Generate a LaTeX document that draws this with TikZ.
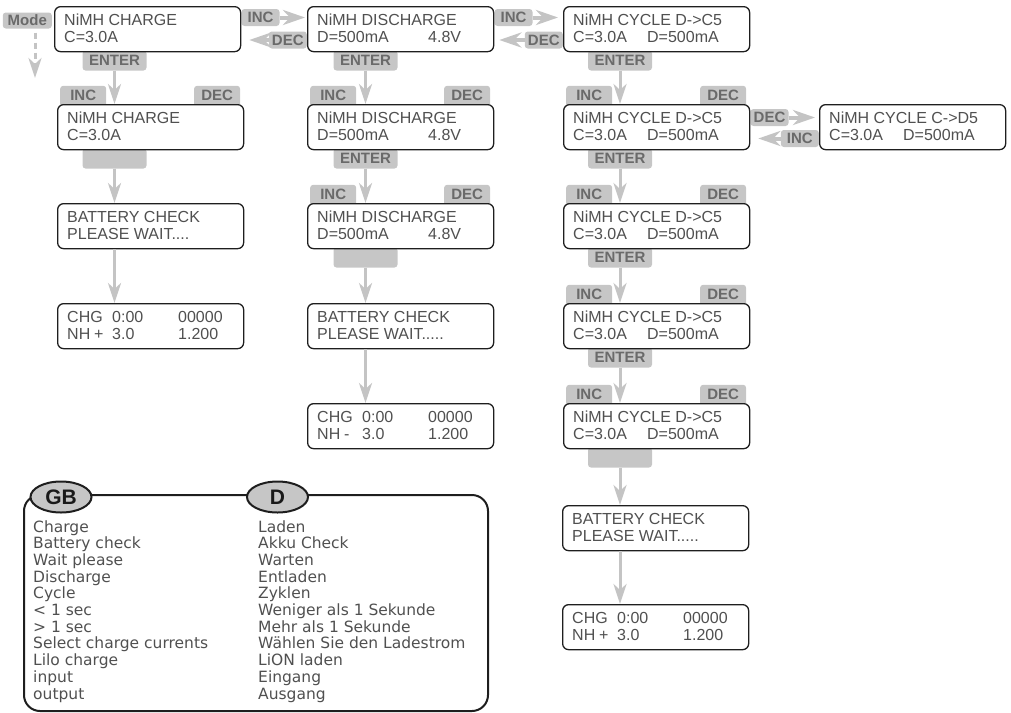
\documentclass[tikz,border=0pt]{standalone}
\usepackage{fontspec}
\setmainfont{Liberation Sans}
\newfontfamily\legfont{DejaVu Sans}
\usetikzlibrary{arrows.meta,shapes.geometric}
\pgfdeclarelayer{bg}
\pgfsetlayers{bg,main}
\definecolor{tabgrey}{HTML}{C6C6C6}
\definecolor{tabtext}{HTML}{6A6A6A}
\definecolor{arrgrey}{HTML}{C4C4C4}
\definecolor{lcdtext}{HTML}{505050}
\definecolor{boxline}{HTML}{1E1E1E}
\newcommand\cellat[2]{\makebox[#1pt][l]{#2}}
\tikzset{
 lcd/.style={draw=boxline, line width=1.3pt, fill=white, rounded corners=6pt, minimum width=186pt, minimum height=45pt, inner sep=0pt, anchor=north west},
 lcdtxt/.style={anchor=base west, inner sep=0pt, text=lcdtext, font=\fontsize{16}{17}\selectfont},
 tab/.style={fill=tabgrey, rounded corners=3pt, inner sep=0pt, text=tabtext, font=\bfseries\fontsize{15}{15}\selectfont},
 vtab/.style={tab, minimum width=46pt, minimum height=21pt},
 etab/.style={tab, minimum width=64pt, minimum height=20pt, anchor=north},
 htab/.style={tab, minimum width=38pt, minimum height=17pt},
 varrow/.style={draw=arrgrey, line width=3pt, -{Stealth[length=20pt,width=13pt,inset=6pt]}},
 harrow/.style={draw=arrgrey, line width=4pt, -{Stealth[length=22pt,width=15pt,inset=7pt]}},
 legtxt/.style={anchor=base west, inner sep=0pt, text=lcdtext, font=\legfont\fontsize{15.5}{17}\selectfont},
 flag/.style={ellipse, draw=boxline, fill=tabgrey, line width=2pt, minimum width=61pt, minimum height=31pt, inner sep=0pt, text=black!90, font=\bfseries\fontsize{21}{21}\selectfont},
}
\newcommand\lcdbox[5]{%
 \node[lcd] (#1) at (#2,#3) {};
 \node[lcdtxt] (#1-1) at ([xshift=10pt,yshift=-19pt]#1.north west) {#4};
 \node[lcdtxt] (#1-2) at ([xshift=10pt,yshift=-36pt]#1.north west) {#5};
}
\newcommand\incdec[1]{%
 \begin{pgfonlayer}{bg}
 \node[vtab, anchor=south west] (#1-inc) at ([xshift=3pt,yshift=-3pt]#1.north west) {\raisebox{1.5pt}{INC}};
 \node[vtab, anchor=south east] (#1-dec) at ([xshift=-4pt,yshift=-3pt]#1.north east) {\raisebox{1.5pt}{DEC}};
 \end{pgfonlayer}}
\newcommand\entertab[3]{% box, column coordinate, text
 \begin{pgfonlayer}{bg}
 \node[etab] (#1-ent) at ([yshift=2pt]#2 |- #1.south) {\raisebox{-2pt}{#3}};
 \end{pgfonlayer}}
\begin{document}
\begin{tikzpicture}[x=1pt,y=-1pt]
\useasboundingbox (0,0) rectangle (1011,712);
\coordinate (x1) at (114.5,0);
\coordinate (x2) at (365.5,0);
\coordinate (x3) at (620,0);

% column 1
\lcdbox{c1a}{54}{6}{NiMH CHARGE}{C=3.0A}
\lcdbox{c1b}{57}{104}{NiMH CHARGE}{C=3.0A}
\lcdbox{c1c}{57}{203}{BATTERY CHECK}{PLEASE WAIT....}
\lcdbox{c1d}{57}{303}{\cellat{45}{CHG}\cellat{66}{0:00}00000}{\cellat{27}{NH}\cellat{18}{+}\cellat{66}{3.0}1.200}
% column 2
\lcdbox{c2a}{307}{6}{NiMH DISCHARGE}{\cellat{111}{D=500mA}4.8V}
\lcdbox{c2b}{307}{104}{NiMH DISCHARGE}{\cellat{111}{D=500mA}4.8V}
\lcdbox{c2c}{307}{203}{NiMH DISCHARGE}{\cellat{111}{D=500mA}4.8V}
\lcdbox{c2d}{307}{303}{BATTERY CHECK}{PLEASE WAIT.....}
\lcdbox{c2e}{307}{403}{\cellat{45}{CHG}\cellat{66}{0:00}00000}{\cellat{27}{NH}\cellat{18}{-}\cellat{66}{3.0}1.200}
% column 3
\lcdbox{c3a}{563}{6}{NiMH CYCLE D->C5}{\cellat{74}{C=3.0A}D=500mA}
\lcdbox{c3b}{563}{104}{NiMH CYCLE D->C5}{\cellat{74}{C=3.0A}D=500mA}
\lcdbox{c3c}{563}{203}{NiMH CYCLE D->C5}{\cellat{74}{C=3.0A}D=500mA}
\lcdbox{c3d}{563}{303}{NiMH CYCLE D->C5}{\cellat{74}{C=3.0A}D=500mA}
\lcdbox{c3e}{563}{403}{NiMH CYCLE D->C5}{\cellat{74}{C=3.0A}D=500mA}
\lcdbox{c3f}{562}{505}{BATTERY CHECK}{PLEASE WAIT.....}
\lcdbox{c3g}{562}{604}{\cellat{45}{CHG}\cellat{66}{0:00}00000}{\cellat{27}{NH}\cellat{18}{+}\cellat{66}{3.0}1.200}
\lcdbox{r}{819}{104}{NiMH CYCLE C->D5}{\cellat{74}{C=3.0A}D=500mA}

% INC / DEC tabs above boxes
\incdec{c1b}
\incdec{c2b}\incdec{c2c}
\incdec{c3b}\incdec{c3c}\incdec{c3d}\incdec{c3e}

% ENTER and empty tabs below boxes
\entertab{c1a}{x1}{ENTER}
\entertab{c1b}{x1}{}
\entertab{c2a}{x2}{ENTER}
\entertab{c2b}{x2}{ENTER}
\entertab{c2c}{x2}{}
\entertab{c3a}{x3}{ENTER}
\entertab{c3b}{x3}{ENTER}
\entertab{c3c}{x3}{ENTER}
\entertab{c3d}{x3}{ENTER}
\entertab{c3e}{x3}{}

% vertical arrows
\draw[varrow] (c1a-ent.south) -- (c1a-ent.south |- c1b.north);
\draw[varrow] (c1b-ent.south) -- (c1b-ent.south |- c1c.north);
\draw[varrow] (x1 |- c1c.south) -- (x1 |- c1d.north);
\draw[varrow] (c2a-ent.south) -- (c2a-ent.south |- c2b.north);
\draw[varrow] (c2b-ent.south) -- (c2b-ent.south |- c2c.north);
\draw[varrow] (c2c-ent.south) -- (c2c-ent.south |- c2d.north);
\draw[varrow] (x2 |- c2d.south) -- (x2 |- c2e.north);
\draw[varrow] (c3a-ent.south) -- (c3a-ent.south |- c3b.north);
\draw[varrow] (c3b-ent.south) -- (c3b-ent.south |- c3c.north);
\draw[varrow] (c3c-ent.south) -- (c3c-ent.south |- c3d.north);
\draw[varrow] (c3d-ent.south) -- (c3d-ent.south |- c3e.north);
\draw[varrow] (c3e-ent.south) -- (c3e-ent.south |- c3f.north);
\draw[varrow] (x3 |- c3f.south) -- (x3 |- c3g.north);

% horizontal INC / DEC tabs and arrows
\begin{pgfonlayer}{bg}
\node[htab, anchor=west] (incR1) at ([yshift=-11.5pt]c1a.north east) {INC};
\node[htab, anchor=east] (decL1) at ([yshift=-34pt]c2a.north west) {DEC};
\node[htab, anchor=west] (incR2) at ([yshift=-11.5pt]c2a.north east) {INC};
\node[htab, anchor=east] (decL2) at ([yshift=-34pt]c3a.north west) {DEC};
\node[htab, anchor=west] (decR) at ([yshift=-13.5pt]c3b.north east) {DEC};
\node[htab, anchor=east] (incL) at ([yshift=-34.5pt]r.north west) {INC};
\end{pgfonlayer}
\draw[harrow, shorten >=2pt] (incR1.east) -- (incR1.east -| c2a.west);
\draw[harrow, shorten >=8pt] (decL1.west) -- (decL1.west -| c1a.east);
\draw[harrow, shorten >=5pt] (incR2.east) -- (incR2.east -| c3a.west);
\draw[harrow, shorten >=5pt] (decL2.west) -- (decL2.west -| c2a.east);
\draw[harrow, shorten >=4pt] (decR.east) -- (decR.east -| r.west);
\draw[harrow, shorten >=8pt] (incL.west) -- (incL.west -| c3b.east);

% Mode
\node[tab, minimum width=49pt, minimum height=16pt, anchor=east] (mode) at ([xshift=-2pt,yshift=-14.5pt]c1a.north west) {Mode};
\coordinate (modeend) at (35,78);
\draw[varrow, dash pattern=on 6pt off 4pt, shorten <=4pt] (modeend |- mode.south) -- (modeend);

% legend
\node[draw=boxline, line width=2pt, rounded corners=16pt, minimum width=464pt, minimum height=216pt, inner sep=0pt, anchor=north west] (legend) at (23,494) {};
\node[flag] (gb) at (61,497) {GB};
\node[flag] (de) at (277.5,497) {D};
\foreach \t [count=\i] in {Charge, Battery check, Wait please, Discharge, Cycle, < 1 sec, > 1 sec, Select charge currents, Lilo charge, input, output}
  \node[legtxt] (gbl\i) at (33,{532+16.7*(\i-1)}) {\t};
\foreach \t [count=\i] in {Laden, Akku Check, Warten, Entladen, Zyklen, Weniger als 1 Sekunde, Mehr als 1 Sekunde, Wählen Sie den Ladestrom, LiON laden, Eingang, Ausgang}
  \node[legtxt] (del\i) at (258,{532+16.7*(\i-1)}) {\t};
\end{tikzpicture}
\end{document}
